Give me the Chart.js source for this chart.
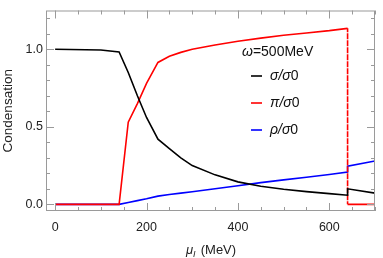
<!DOCTYPE html>
<html>
<head>
<meta charset="utf-8">
<script src="https://cdn.jsdelivr.net/npm/chart.js@4.4.1/dist/chart.umd.min.js"></script>
<style>
  html, body { margin: 0; padding: 0; background: #fff; }
  #wrap { width: 383px; height: 258px; position: relative; }
</style>
</head>
<body>
<div id="wrap"><canvas id="chart"></canvas></div>
<script>
// ---- data ----
const muI   = [0, 100, 140, 160, 180, 200, 225, 250, 275, 300, 350, 400, 450, 500, 550, 600, 640, 640, 700];
const sigma = [1.0, 0.995, 0.983, 0.85, 0.70, 0.56, 0.42, 0.36, 0.30, 0.25, 0.19, 0.145, 0.117, 0.097, 0.082, 0.069, 0.059, 0.10, 0.072];
const pion  = [0, 0, 0, 0.53, 0.65, 0.78, 0.915, 0.955, 0.98, 1.0, 1.027, 1.052, 1.072, 1.09, 1.105, 1.12, 1.135, 0, 0];
const rho   = [0, 0, 0, 0.012, 0.024, 0.036, 0.053, 0.063, 0.072, 0.081, 0.10, 0.12, 0.14, 0.158, 0.175, 0.192, 0.208, 0.246, 0.28];

const xMajorTicks = [0, 200, 400, 600];
const xMinorTicks = [50, 100, 150, 250, 300, 350, 450, 500, 550, 650, 700];
const yMajorTicks = [0, 0.5, 1.0];
const yMinorTicks = [0.1, 0.2, 0.3, 0.4, 0.6, 0.7, 0.8, 0.9, 1.1, 1.2];

const legendTitle = '=500MeV';
const seriesNames = ['σ', 'π', 'ρ'];
const seriesColors = ['#000000', '#ff0000', '#0000ff'];

const FONT = '"Liberation Sans", Arial, sans-serif';
const FRAME = '#9a9a9a';

const toXY = (ys) => muI.map((x, i) => ({ x, y: ys[i] }));

// frame + inward ticks on all four sides
const framePlugin = {
  id: 'frame',
  afterDraw(chart) {
    const { ctx, chartArea: a, scales } = chart;
    const xs = scales.x, ys = scales.y;
    ctx.save();
    ctx.strokeStyle = FRAME;
    ctx.lineWidth = 1;
    ctx.strokeRect(a.left + 0.5, a.top + 0.5, a.right - a.left - 1, a.bottom - a.top - 1);
    ctx.beginPath();
    const xt = (v, len) => {
      const p = Math.round(xs.getPixelForValue(v)) + 0.5;
      ctx.moveTo(p, a.bottom); ctx.lineTo(p, a.bottom - len);
      ctx.moveTo(p, a.top); ctx.lineTo(p, a.top + len);
    };
    const yt = (v, len) => {
      const p = Math.round(ys.getPixelForValue(v)) + 0.5;
      ctx.moveTo(a.left, p); ctx.lineTo(a.left + len, p);
      ctx.moveTo(a.right, p); ctx.lineTo(a.right - len, p);
    };
    xMajorTicks.forEach(v => xt(v, 8));
    xMinorTicks.forEach(v => xt(v, 4));
    yMajorTicks.forEach(v => yt(v, 8));
    yMinorTicks.forEach(v => yt(v, 4));
    ctx.stroke();

    // x axis title: mu_I (MeV)
    ctx.fillStyle = '#222';
    ctx.textBaseline = 'alphabetic';
    ctx.textAlign = 'left';
    const bx = 186, by = 254;
    ctx.font = 'italic 13px ' + FONT;
    ctx.fillText('μ', bx, by);
    const wMu = ctx.measureText('μ').width;
    ctx.font = 'italic 9px ' + FONT;
    ctx.fillText('I', bx + wMu, by + 3);
    ctx.font = '13px ' + FONT;
    ctx.fillText(' (MeV)', bx + wMu + 4, by);
    ctx.restore();
  }
};

// in-plot legend
const legendPlugin = {
  id: 'inLegend',
  afterDatasetsDraw(chart) {
    const { ctx } = chart;
    ctx.save();
    ctx.fillStyle = '#111';
    ctx.textBaseline = 'middle';
    ctx.textAlign = 'left';
    ctx.font = 'italic 14px ' + FONT;
    ctx.fillText('ω', 242, 52);
    const w = ctx.measureText('ω').width;
    ctx.font = '14px ' + FONT;
    ctx.fillText(legendTitle, 242 + w, 52);

    seriesNames.forEach((name, i) => {
      const y = 76 + i * 27;
      ctx.strokeStyle = seriesColors[i];
      ctx.lineWidth = 1.6;
      ctx.beginPath();
      ctx.moveTo(251, y); ctx.lineTo(262, y);
      ctx.stroke();
      let x = 270;
      ctx.font = 'italic 14px ' + FONT;
      ctx.fillText(name + '/σ', x, y);
      x += ctx.measureText(name + '/σ').width;
      ctx.font = '14px ' + FONT;
      ctx.fillText('0', x, y);
    });
    ctx.restore();
  }
};

const lineDs = (label, ys, color, dashJump) => ({
  label,
  data: toXY(ys),
  borderColor: color,
  backgroundColor: color,
  borderWidth: 1.6,
  pointRadius: 0,
  showLine: true,
  tension: 0,
  segment: dashJump ? {
    borderDash: (c) => (c.p0.parsed.x === c.p1.parsed.x ? [4, 3] : undefined)
  } : undefined
});

new Chart(document.getElementById('chart'), {
  type: 'scatter',
  data: {
    datasets: [
      lineDs('σ/σ0', sigma, seriesColors[0], false),
      lineDs('π/σ0', pion, seriesColors[1], true),
      lineDs('ρ/σ0', rho, seriesColors[2], false)
    ]
  },
  options: {
    responsive: true,
    maintainAspectRatio: false,
    animation: false,
    layout: { padding: { left: 0, top: 7, right: 8, bottom: 0 } },
    plugins: { legend: { display: false }, tooltip: { enabled: false } },
    scales: {
      x: {
        type: 'linear',
        min: -20, max: 700,
        grid: { display: false, drawTicks: false },
        border: { display: false },
        afterBuildTicks: (s) => { s.ticks = xMajorTicks.map(v => ({ value: v })); },
        afterFit: (s) => { s.height = 47; },
        ticks: {
          font: { family: FONT, size: 12.5 }, color: '#222', padding: 9,
          maxRotation: 0, autoSkip: false,
          callback: (v) => String(v)
        }
      },
      y: {
        type: 'linear',
        min: -0.043, max: 1.25,
        grid: { display: false, drawTicks: false },
        border: { display: false },
        afterBuildTicks: (s) => { s.ticks = yMajorTicks.map(v => ({ value: v })); },
        afterFit: (s) => { s.width = 46; },
        ticks: {
          font: { family: FONT, size: 12.5 }, color: '#222', padding: 3,
          autoSkip: false,
          callback: (v) => v.toFixed(1)
        },
        title: {
          display: true, text: 'Condensation', color: '#222',
          font: { family: FONT, size: 13.5 }, padding: { top: 0, bottom: 0 }
        }
      }
    }
  },
  plugins: [framePlugin, legendPlugin]
});
</script>
</body>
</html>
